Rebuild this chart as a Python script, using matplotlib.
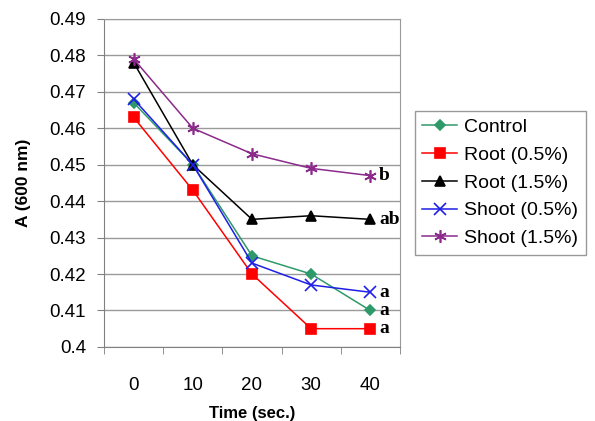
import numpy as np
import matplotlib
matplotlib.use("Agg")
import matplotlib.pyplot as plt

plt.rcParams['font.family'] = ['Liberation Sans', 'DejaVu Sans']

times = ["0", "10", "20", "30", "40"]
control = [0.467, 0.450, 0.425, 0.420, 0.410]
root_05 = [0.463, 0.443, 0.420, 0.405, 0.405]
root_15 = [0.478, 0.450, 0.435, 0.436, 0.435]
shoot_05 = [0.468, 0.450, 0.423, 0.417, 0.415]
shoot_15 = [0.479, 0.460, 0.453, 0.449, 0.447]
letters = {"Shoot (1.5%)": "b", "Root (1.5%)": "ab", "Shoot (0.5%)": "a",
           "Control": "a", "Root (0.5%)": "a"}

series = [
    ("Control", control, "#2e9a6a", "D", 5),
    ("Root (0.5%)", root_05, "#ff0000", "s", 7),
    ("Root (1.5%)", root_15, "#000000", "^", 7),
    ("Shoot (0.5%)", shoot_05, "#1f1fe6", "x", 8),
    ("Shoot (1.5%)", shoot_15, "#8b2a8b", (6, 2, 0), 9),
]

fig = plt.figure(figsize=(5.95, 4.21), dpi=100)
ax = fig.add_axes([0.175, 0.176, 0.497, 0.779])
x = np.arange(len(times))
for name, vals, col, mk, ms in series:
    ax.plot(x, vals, color=col, marker=mk, markersize=ms, lw=1.1,
            markeredgewidth=1.2, label=name)
    ax.text(x[-1] + 0.15, vals[-1], letters[name], fontsize=14, fontweight="bold",
            family="Liberation Serif", va="center", ha="left")

ax.set_xlim(-0.5, 4.5)
ax.set_ylim(0.4, 0.49)
ax.set_yticks(np.arange(0.40, 0.491, 0.01))
ax.set_yticklabels(["0.4"] + ["%.2f" % v for v in np.arange(0.41, 0.491, 0.01)])
ax.set_xticks(x)
ax.set_xticklabels(times)
ax.set_xticks(np.arange(-0.5, 4.6, 1), minor=True)
ax.tick_params(axis="x", which="major", length=0, pad=22)
ax.tick_params(axis="x", which="minor", length=5, color="#808080")
ax.tick_params(axis="y", length=5, color="#808080", pad=8)
ax.tick_params(labelsize=13.5)
ax.grid(axis="y", color="#9a9a9a", lw=1)
ax.set_axisbelow(True)
for s in ax.spines.values():
    s.set_color("#9a9a9a")
ax.spines["left"].set_color("#808080")
ax.spines["bottom"].set_color("#808080")

ax.set_ylabel("A (600 nm)", fontsize=12.5, fontweight="bold", labelpad=13)
ax.set_xlabel("Time (sec.)", fontsize=12, fontweight="bold", labelpad=8)

leg = ax.legend(loc="center left", bbox_to_anchor=(1.05, 0.5), fontsize=14,
                frameon=True, fancybox=False, edgecolor="#808080",
                handlelength=1.8, handletextpad=0.35, borderpad=0.4,
                labelspacing=0.52, borderaxespad=0)
leg.get_frame().set_linewidth(1)

fig.savefig("out.png", dpi=100)
